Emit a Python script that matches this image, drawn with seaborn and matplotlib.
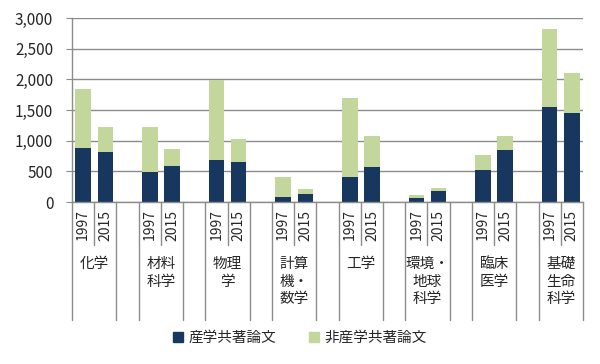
import pandas as pd
import numpy as np
import matplotlib.pyplot as plt
import seaborn as sns
from matplotlib.patches import Patch

fields = ["化学", "材料\n科学", "物理\n学", "計算\n機・\n数学", "工学",
          "環境・\n地球\n科学", "臨床\n医学", "基礎\n生命\n科学"]
years = ["1997", "2015"]
# 産学共著論文 (industry-academia co-authored)
industry = [880, 810, 490, 585, 690, 655, 80, 125,
            405, 575, 65, 180, 520, 850, 1545, 1445]
# 産学共著 + 非産学共著 (stack total)
total = [1840, 1230, 1230, 870, 1990, 1020, 400, 220,
         1690, 1075, 120, 235, 760, 1075, 2820, 2100]

NAVY = "#17375E"
GREEN = "#C3D69B"
GRID = "#8C8C8C"

rows = []
for g, field in enumerate(fields):
    for k, yr in enumerate(years):
        i = g * 2 + k
        rows.append({"pos": g * 3 + k, "year": yr, "field": field,
                     "industry": industry[i], "total": total[i]})
df = pd.DataFrame(rows)

sns.set_style("white")
plt.rcParams["font.family"] = ["Noto Sans CJK JP", "DejaVu Sans"]

fig = plt.figure(figsize=(6, 3.64), dpi=100)
ax = fig.add_axes([0.12, 0.445, 0.8517, 0.5055])

sns.barplot(data=df, x="pos", y="total", native_scale=True, width=0.7,
            color=GREEN, saturation=1, linewidth=0, ax=ax)
sns.barplot(data=df, x="pos", y="industry", native_scale=True, width=0.7,
            color=NAVY, saturation=1, linewidth=0, ax=ax)

n_slots = len(fields) * 3 - 1
ax.set_xlim(-0.5, n_slots - 0.5)
ax.set_ylim(0, 3000)
ax.set_yticks(range(0, 3001, 500))
ax.set_yticklabels([f"{v:,}" for v in range(0, 3001, 500)], fontsize=11)
ax.yaxis.grid(True, color=GRID, linewidth=1)
ax.set_axisbelow(True)
ax.set_xticks([])
ax.set_xlabel("")
ax.set_ylabel("")
ax.tick_params(axis="y", length=4.5, color=GRID, pad=9, left=True)
for s in ["top", "right"]:
    ax.spines[s].set_visible(False)
for s in ["left", "bottom"]:
    ax.spines[s].set_color(GRID)
    ax.spines[s].set_linewidth(1)

# multi-level category axis lines
trans = ax.get_xaxis_transform()
for j in range(n_slots + 1):
    b = j - 0.5
    y_end = -0.234 if j % 3 == 1 else -0.64
    ax.plot([b, b], [0, y_end], color=GRID, lw=1, transform=trans, clip_on=False)

for _, r in df.iterrows():
    ax.text(r["pos"], -0.125, r["year"], rotation=90, ha="center", va="center",
            fontsize=10, transform=trans)

for g, field in enumerate(fields):
    ax.text(g * 3 + 0.5, -0.30, field, ha="center", va="top", fontsize=10.5,
            linespacing=1.3, transform=trans)

handles = [Patch(color=NAVY, label="産学共著論文"),
           Patch(color=GREEN, label="非産学共著論文")]
fig.legend(handles=handles, loc="center", bbox_to_anchor=(0.5, 0.071), ncol=2,
           frameon=False, fontsize=10.5, handlelength=0.7, handleheight=0.7,
           handletextpad=0.4, columnspacing=2.2)

fig.savefig("out.png", dpi=100, facecolor="white")
